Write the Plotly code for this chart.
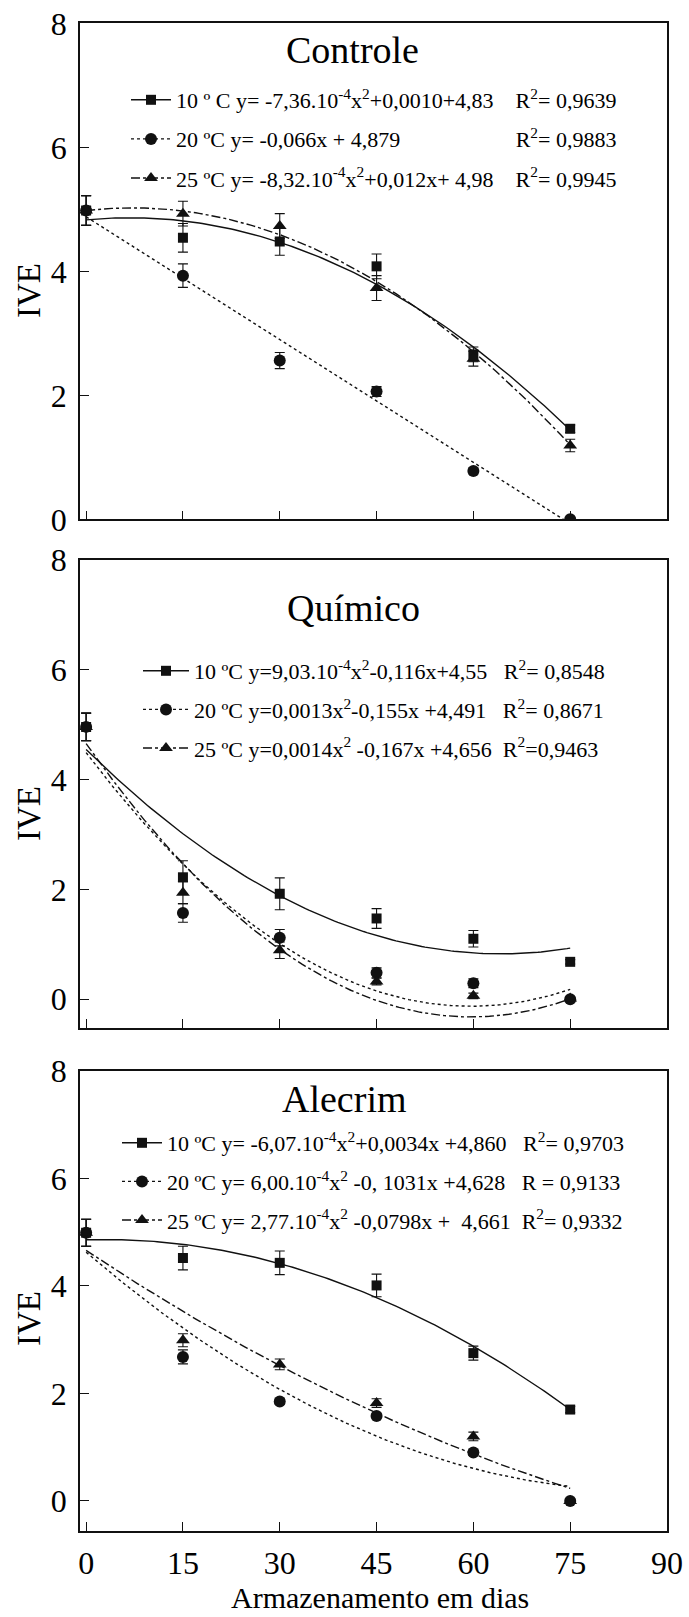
import numpy as np
import plotly.graph_objects as go

W, H = 689, 1617

# ---- data -------------------------------------------------------------
dias = [0, 15, 30, 45, 60, 75]
x_ticks = [0, 15, 30, 45, 60, 75, 90]
y_ticks = [0, 2, 4, 6, 8]

# Controle
controle_10 = [4.98, 4.54, 4.48, 4.08, 2.66, 1.46]
controle_20 = [4.98, 3.93, 2.56, 2.06, 0.78, 0.00]
controle_25 = [4.98, 4.93, 4.73, 3.73, 2.59, 1.19]
controle_10_err = [0.24, 0.23, 0.22, 0.20, 0.12, 0.06]
controle_20_err = [0.24, 0.19, 0.13, 0.08, 0.05, 0.03]
controle_25_err = [0.24, 0.20, 0.20, 0.20, 0.12, 0.10]

# Químico
quimico_10 = [4.96, 2.22, 1.92, 1.47, 1.10, 0.68]
quimico_20 = [4.96, 1.57, 1.12, 0.48, 0.29, 0.00]
quimico_25 = [4.96, 1.94, 0.89, 0.32, 0.06, 0.01]
quimico_10_err = [0.25, 0.30, 0.29, 0.18, 0.15, 0.04]
quimico_20_err = [0.25, 0.17, 0.15, 0.09, 0.08, 0.03]
quimico_25_err = [0.25, 0.20, 0.15, 0.06, 0.05, 0.03]

# Alecrim
alecrim_10 = [4.99, 4.52, 4.43, 4.01, 2.75, 1.70]
alecrim_20 = [4.99, 2.68, 1.85, 1.58, 0.90, 0.00]
alecrim_25 = [4.99, 2.99, 2.54, 1.82, 1.20, 0.00]
alecrim_10_err = [0.25, 0.22, 0.22, 0.21, 0.13, 0.06]
alecrim_20_err = [0.25, 0.13, 0.05, 0.05, 0.05, 0.03]
alecrim_25_err = [0.25, 0.12, 0.10, 0.08, 0.08, 0.03]

# regression coefficients (a, b, c) of y = a x^2 + b x + c
controle_coef = [(-7.36e-4, 0.010, 4.83), (0.0, -0.066, 4.879), (-8.32e-4, 0.012, 4.98)]
quimico_coef = [(9.03e-4, -0.116, 4.55), (0.0013, -0.155, 4.491), (0.0014, -0.167, 4.656)]
alecrim_coef = [(-6.07e-4, 0.0034, 4.860), (6.00e-4, -0.1031, 4.628), (2.77e-4, -0.0798, 4.661)]

NB = "\u00a0"
controle_legend = [
    "10 º C y= -7,36.10<sup>-4</sup>x<sup>2</sup>+0,0010+4,83" + NB * 4 + "R<sup>2</sup>= 0,9639",
    "20 ºC y= -0,066x + 4,879" + NB * 21 + "R<sup>2</sup>= 0,9883",
    "25 ºC y= -8,32.10<sup>-4</sup>x<sup>2</sup>+0,012x+ 4,98" + NB * 4 + "R<sup>2</sup>= 0,9945",
]
quimico_legend = [
    "10 ºC y=9,03.10<sup>-4</sup>x<sup>2</sup>-0,116x+4,55" + NB * 3 + "R<sup>2</sup>= 0,8548",
    "20 ºC y=0,0013x<sup>2</sup>-0,155x +4,491" + NB * 3 + "R<sup>2</sup>= 0,8671",
    "25 ºC y=0,0014x<sup>2</sup> -0,167x +4,656" + NB * 2 + "R<sup>2</sup>=0,9463",
]
alecrim_legend = [
    "10 ºC y= -6,07.10<sup>-4</sup>x<sup>2</sup>+0,0034x +4,860" + NB * 3 + "R<sup>2</sup>= 0,9703",
    "20 ºC y= 6,00.10<sup>-4</sup>x<sup>2</sup> -0, 1031x +4,628" + NB * 3 + "R = 0,9133",
    "25 ºC y= 2,77.10<sup>-4</sup>x<sup>2</sup> -0,0798x +" + NB + " 4,661" + NB * 2 + "R<sup>2</sup>= 0,9332",
]

painel_titulos = ["Controle", "Químico", "Alecrim"]
x_titulo = "Armazenamento em dias"
y_titulo = "IVE"

# ---- styles -----------------------------------------------------------
FONT = "Liberation Serif, Times New Roman, serif"
INK = "#111111"
symbols = ["square", "circle", "triangle-up"]
msizes = [10, 12, 12]
dashes = ["solid", "dot", "dashdot"]


def px(v):
    return v / W


def py(v):
    return 1 - v / H


panels = [
    dict(vals=[controle_10, controle_20, controle_25],
         errs=[controle_10_err, controle_20_err, controle_25_err],
         coef=controle_coef, leg=controle_legend,
         dom=(23.3, 519.3), yr=[0, 8],
         title_xy=(352, 50), ive_y=291,
         leg_xy=(126, 79), gap=7.5, itemw=40),
    dict(vals=[quimico_10, quimico_20, quimico_25],
         errs=[quimico_10_err, quimico_20_err, quimico_25_err],
         coef=quimico_coef, leg=quimico_legend,
         dom=(560, 1027.7), yr=[-0.52, 8],
         title_xy=(353, 608), ive_y=814,
         leg_xy=(138, 650), gap=7, itemw=46),
    dict(vals=[alecrim_10, alecrim_20, alecrim_25],
         errs=[alecrim_10_err, alecrim_20_err, alecrim_25_err],
         coef=alecrim_coef, leg=alecrim_legend,
         dom=(1071, 1531), yr=[-0.56, 8],
         title_xy=(344, 1099), ive_y=1319,
         leg_xy=(117, 1122), gap=7, itemw=40),
]

fig = go.Figure()
x_fit = np.linspace(dias[0], dias[-1], 151)
annotations = []

for i, p in enumerate(panels):
    xa = "x" if i == 0 else f"x{i + 1}"
    ya = "y" if i == 0 else f"y{i + 1}"
    lg = "legend" if i == 0 else f"legend{i + 1}"

    # fitted curves
    for k in range(3):
        a, b, c = p["coef"][k]
        fig.add_trace(go.Scatter(
            x=x_fit, y=a * x_fit ** 2 + b * x_fit + c, mode="lines",
            line=dict(color=INK, width=1.4, dash=dashes[k]),
            xaxis=xa, yaxis=ya, showlegend=False, hoverinfo="skip"))
    # observed means with error bars
    for k in range(3):
        fig.add_trace(go.Scatter(
            x=dias, y=p["vals"][k], mode="markers",
            marker=dict(symbol=symbols[k], size=msizes[k], color=INK),
            error_y=dict(type="data", array=p["errs"][k], color=INK,
                         thickness=1.1, width=5),
            xaxis=xa, yaxis=ya, showlegend=False))
    # legend entries
    for k in range(3):
        fig.add_trace(go.Scatter(
            x=[None], y=[None], mode="lines+markers",
            line=dict(color=INK, width=1.4, dash=dashes[k]),
            marker=dict(symbol=symbols[k], size=msizes[k], color=INK),
            name=p["leg"][k], legend=lg, legendgroup=f"{i}-{k}",
            xaxis=xa, yaxis=ya))

    axis_common = dict(showline=True, linecolor=INK, linewidth=1.6, mirror=True,
                       ticks="inside", ticklen=9, tickwidth=1.2, tickcolor=INK,
                       showgrid=False, zeroline=False, automargin=False,
                       tickfont=dict(family=FONT, size=32, color="black"))
    fig.update_layout(**{
        ("xaxis" if i == 0 else f"xaxis{i + 1}"): dict(
            axis_common, domain=[px(80), px(667)], range=[-0.95, 90],
            tickvals=x_ticks, showticklabels=(i == 2), anchor=ya,
            ticklabelstandoff=3),
        ("yaxis" if i == 0 else f"yaxis{i + 1}"): dict(
            axis_common, domain=[py(p["dom"][1]), py(p["dom"][0])], range=p["yr"],
            tickvals=y_ticks, anchor=xa, ticklabelstandoff=5),
        lg: dict(x=px(p["leg_xy"][0]), y=py(p["leg_xy"][1]), xanchor="left", yanchor="top",
                 xref="paper", yref="paper", bgcolor="rgba(0,0,0,0)", borderwidth=0,
                 font=dict(family=FONT, size=22, color="black"),
                 itemwidth=p["itemw"], tracegroupgap=p["gap"], traceorder="grouped"),
    })

    annotations.append(dict(text=painel_titulos[i], x=px(p["title_xy"][0]), y=py(p["title_xy"][1]),
                            xref="paper", yref="paper", showarrow=False,
                            xanchor="center", yanchor="middle",
                            font=dict(family=FONT, size=38, color="black")))
    annotations.append(dict(text=y_titulo, x=px(29), y=py(p["ive_y"]),
                            xref="paper", yref="paper", showarrow=False, textangle=-90,
                            xanchor="center", yanchor="middle",
                            font=dict(family=FONT, size=33, color="black")))

annotations.append(dict(text=x_titulo, x=px(380), y=py(1597), xref="paper", yref="paper",
                        showarrow=False, xanchor="center", yanchor="middle",
                        font=dict(family=FONT, size=30, color="black")))

fig.update_layout(width=W, height=H, margin=dict(l=0, r=0, t=0, b=0),
                  paper_bgcolor="white", plot_bgcolor="white",
                  annotations=annotations, showlegend=True,
                  font=dict(family=FONT, color="black"))

fig.write_html("out.html")
